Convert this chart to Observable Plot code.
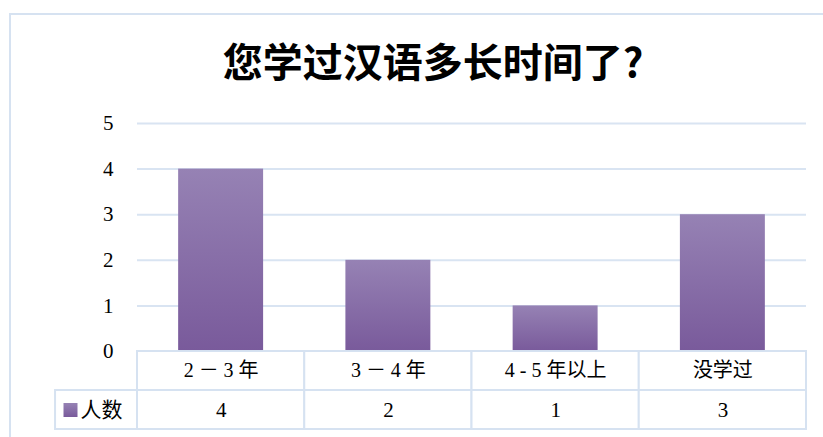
<!DOCTYPE html>
<html>
<head>
<meta charset="utf-8">
<script src="https://cdn.jsdelivr.net/npm/d3@7"></script>
<script src="https://cdn.jsdelivr.net/npm/@observablehq/plot@0.6"></script>
<style>
  html, body { margin: 0; padding: 0; background: #fff; }
  #wrap { position: relative; width: 823px; height: 437px; overflow: hidden; background: #fff; }
  #frame { position: absolute; left: 9px; top: 13px; width: 830px; height: 440px;
           border-top: 2px solid #d6e2f1; border-left: 2px solid #d6e2f1; box-sizing: border-box; }
  #title { position: absolute; left: 0; top: 38px; width: 866px; text-align: center;
           font-family: "Noto Sans CJK SC", sans-serif; font-weight: bold; font-size: 40px;
           line-height: 44px; color: #000; }
  #chart { position: absolute; left: 0; top: 100px; }
</style>
</head>
<body>
<div id="wrap">
  <div id="frame"></div>
  <div id="title">您学过汉语多长时间了?</div>
  <div id="chart"></div>
</div>
<script>
// ---- data ----
const categories = ["2 － 3 年", "3 － 4 年", "4 - 5 年以上", "没学过"];
const counts = [4, 2, 1, 3];
const seriesName = "人数";
const yTicks = [0, 1, 2, 3, 4, 5];

const rows = categories.map((c, i) => ({i, c, v: counts[i]}));

// layout constants (in data units of the scales)
const rowH = 0.855;          // table row height in y units
const barHalf = 0.254;       // half bar width in x units
const legendW = 0.49;        // legend column width in x units
const serif = "'Liberation Serif', 'Noto Sans CJK SC', serif";
const gridColor = "#d9e4f2";
const tableColor = "#d6e2f1";

const defs = () => {
  const ns = "http://www.w3.org/2000/svg";
  const d = document.createElementNS(ns, "defs");
  const g = document.createElementNS(ns, "linearGradient");
  g.setAttribute("id", "barGrad");
  g.setAttribute("x1", "0"); g.setAttribute("y1", "0");
  g.setAttribute("x2", "0"); g.setAttribute("y2", "1");
  [["0%", "#9682b4"], ["100%", "#795a9b"]].forEach(([o, c]) => {
    const s = document.createElementNS(ns, "stop");
    s.setAttribute("offset", o); s.setAttribute("stop-color", c);
    g.appendChild(s);
  });
  d.appendChild(g);
  return d;
};

const chart = Plot.plot({
  width: 823,
  height: 337,
  marginLeft: 137,
  marginRight: 17,
  marginTop: 23,
  marginBottom: 8,
  x: {type: "linear", domain: [-0.5, categories.length - 0.5], axis: null},
  y: {domain: [-2 * rowH, 5], axis: null},
  style: {background: "transparent", color: "#000", overflow: "visible"},
  marks: [
    defs,
    Plot.ruleY(yTicks.filter(t => t > 0), {stroke: gridColor, strokeWidth: 2}),
    Plot.axisY({ticks: yTicks, tickFormat: d3.format("d"), tickSize: 0, tickPadding: 24, fontSize: 21,
                fontFamily: serif, label: null, fill: "#000"}),
    Plot.rect(rows, {x1: d => d.i - barHalf, x2: d => d.i + barHalf, y1: 0, y2: "v",
                     fill: "url(#barGrad)"}),
    // table: header row
    Plot.rect(rows, {x1: d => d.i - 0.5, x2: d => d.i + 0.5, y1: 0, y2: -rowH,
                     fill: "white", stroke: tableColor, strokeWidth: 2}),
    // table: values row
    Plot.rect(rows, {x1: d => d.i - 0.5, x2: d => d.i + 0.5, y1: -rowH, y2: -2 * rowH,
                     fill: "white", stroke: tableColor, strokeWidth: 2}),
    // legend cell
    Plot.rect([seriesName], {x1: -0.5 - legendW, x2: -0.5, y1: -rowH, y2: -2 * rowH,
                             fill: "white", stroke: tableColor, strokeWidth: 2}),
    Plot.dot([seriesName], {x: -0.5, y: -1.5 * rowH, dx: -67, symbol: "square", r: 7.9,
                            fill: "url(#barGrad)", stroke: "none"}),
    Plot.text([seriesName], {x: -0.5, y: -1.5 * rowH, dx: -57, text: d => d, textAnchor: "start",
                             fontSize: 21, fontFamily: serif, fill: "#000"}),
    Plot.text(rows, {x: "i", y: -rowH / 2, text: "c", fontSize: 20, fontFamily: serif, fill: "#000"}),
    Plot.text(rows, {x: "i", y: -1.5 * rowH, text: d => String(d.v), fontSize: 21,
                     fontFamily: serif, fill: "#000"})
  ]
});
document.getElementById("chart").appendChild(chart);
</script>
</body>
</html>
